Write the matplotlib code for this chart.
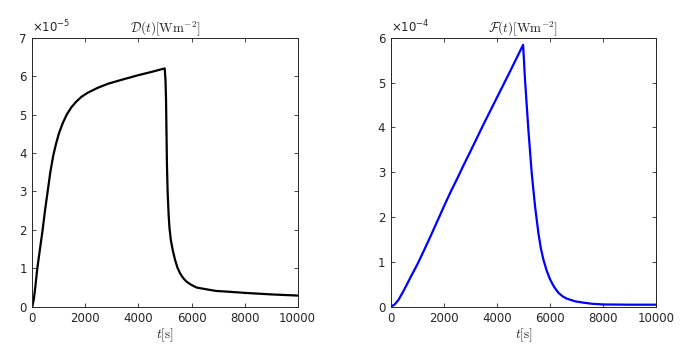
import numpy as np
import matplotlib
matplotlib.use('Agg')
import matplotlib.pyplot as plt

# D(t), values in units of 1e-5 W m^-2
t_d = [0, 60, 120, 190, 290, 390, 480, 580, 680, 790, 900, 1000, 1150, 1300, 1475, 1650,
       1850, 2100, 2450, 2850, 3400, 3975, 4500, 4990,
       5020, 5040, 5074, 5100, 5136, 5170, 5222, 5300, 5383, 5470, 5568, 5680, 5815, 5990,
       6185, 6500, 6926, 7400, 8000, 9000, 10000]
d_vals = [0, 0.2, 0.55, 1.0, 1.5, 2.0, 2.5, 3.0, 3.5, 3.93, 4.25, 4.5, 4.78, 5.0, 5.19, 5.33,
          5.46, 5.57, 5.69, 5.80, 5.91, 6.02, 6.11, 6.20,
          5.9, 5.4, 3.72, 3.0, 2.42, 2.05, 1.73, 1.45, 1.21, 1.02, 0.87, 0.75, 0.65, 0.57,
          0.50, 0.46, 0.41, 0.39, 0.36, 0.32, 0.29]

# F(t), values in units of 1e-4 W m^-2
t_f = [0, 150, 300, 500, 750, 1000, 1250, 1500, 1750, 2000, 2250, 2500, 2750, 3000, 3500,
       4000, 4500, 4990,
       5063, 5189, 5314, 5440, 5566, 5660, 5755, 5880, 6006, 6160, 6321, 6480, 6635, 6950,
       7264, 7600, 8019, 9000, 10000]
f_vals = [0, 0.05, 0.16, 0.37, 0.66, 0.94, 1.25, 1.57, 1.90, 2.23, 2.55, 2.85, 3.16, 3.46, 4.07,
          4.66, 5.25, 5.84,
          5.05, 3.94, 2.98, 2.24, 1.64, 1.30, 1.05, 0.80, 0.61, 0.44, 0.31, 0.23, 0.18, 0.12,
          0.09, 0.065, 0.05, 0.045, 0.045]

xticks = [0, 2000, 4000, 6000, 8000, 10000]
grey = '#262626'

fig = plt.figure(figsize=(6.94, 3.54), dpi=100)
ax1 = fig.add_axes([0.0465, 0.1336, 0.3824, 0.760])
ax2 = fig.add_axes([0.563, 0.1336, 0.3823, 0.760])

panels = [
    (ax1, t_d, d_vals, 'black', 7, r'$\mathcal{D}(t)[\mathrm{Wm}^{-2}]$', '-5'),
    (ax2, t_f, f_vals, 'blue', 6, r'$\mathcal{F}(t)[\mathrm{Wm}^{-2}]$', '-4'),
]

for ax, t, v, col, ymax, title, expo in panels:
    ax.plot(t, v, color=col, lw=1.6)
    ax.set_xlim(0, 10000)
    ax.set_ylim(0, ymax)
    ax.set_xticks(xticks)
    ax.set_yticks(range(ymax + 1))
    ax.tick_params(direction='in', top=True, right=True, length=3, width=0.6,
                   colors=grey, labelsize=8.5, pad=4)
    for s in ax.spines.values():
        s.set_color(grey)
        s.set_linewidth(0.7)
    ax.set_title(title, fontsize=9.5, pad=4, color=grey, math_fontfamily='cm')
    ax.set_xlabel(r'$t[\mathrm{s}]$', fontsize=9.5, labelpad=1, color=grey,
                  math_fontfamily='cm')
    ax.text(0.0, 1.01, r'$\times10^{' + expo + '}$', transform=ax.transAxes,
            fontsize=8.5, color=grey, ha='left', va='bottom',
            math_fontfamily='dejavusans')

fig.savefig('out.png', dpi=100)
